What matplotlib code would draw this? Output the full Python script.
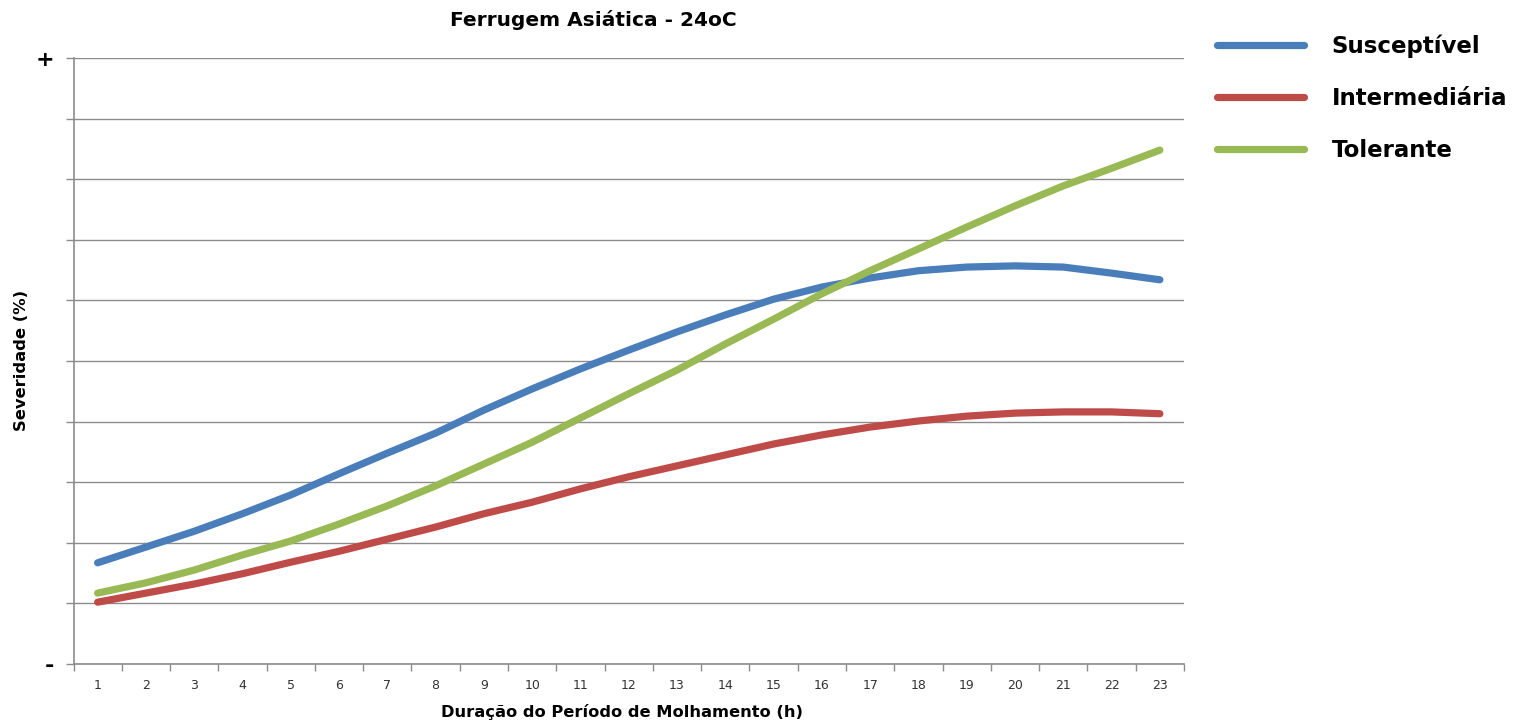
import matplotlib.pyplot as plt

# hours of wetness (categories)
hours = list(range(1, 24))

susceptivel = [1.67, 1.93, 2.19, 2.48, 2.79, 3.14, 3.48, 3.81, 4.19, 4.54, 4.87, 5.18,
               5.48, 5.76, 6.02, 6.22, 6.37, 6.49, 6.55, 6.57, 6.55, 6.45, 6.34]
intermediaria = [1.02, 1.17, 1.32, 1.49, 1.68, 1.86, 2.06, 2.26, 2.48, 2.67, 2.89, 3.09,
                 3.27, 3.45, 3.63, 3.78, 3.91, 4.01, 4.09, 4.14, 4.16, 4.16, 4.13]
tolerante = [1.17, 1.34, 1.55, 1.80, 2.03, 2.31, 2.61, 2.94, 3.30, 3.66, 4.06, 4.46,
             4.85, 5.28, 5.69, 6.11, 6.49, 6.85, 7.21, 7.56, 7.89, 8.18, 8.48]

labels = ['Susceptível', 'Intermediária', 'Tolerante']
colors = ['#4a7ebb', '#be4b48', '#98b954']

W, H = 1522, 724
fig = plt.figure(figsize=(W / 100, H / 100), dpi=100)
ax = fig.add_axes([73.5 / W, 1 - 664 / H, (1184 - 73.5) / W, (664 - 58) / H])

for vals, lab, col in zip([susceptivel, intermediaria, tolerante], labels, colors):
    ax.plot(hours, vals, color=col, lw=5.2, solid_capstyle='round', label=lab)

# axes look (Excel style)
grey = '#8c8c8c'
ax.set_xlim(0.5, 23.5)
ax.set_ylim(0, 10)
ax.set_yticks(range(11))
ax.set_yticklabels(['-'] + [''] * 9 + ['+'], fontsize=16, fontweight='bold')
ax.grid(axis='y', color=grey, lw=1)
ax.set_axisbelow(True)
ax.tick_params(axis='y', length=6, color=grey, pad=8, width=1)

ax.set_xticks([h + 0.5 for h in range(0, 24)])
ax.set_xticklabels([])
ax.set_xticks(hours, minor=True)
ax.set_xticklabels([str(h) for h in hours], minor=True, fontsize=9, color='#333333')
ax.tick_params(axis='x', which='major', length=5, color=grey, width=1)
ax.tick_params(axis='x', which='minor', length=0, pad=11)

for s in ['top', 'right']:
    ax.spines[s].set_visible(False)
for s in ['left', 'bottom']:
    ax.spines[s].set_color(grey)
    ax.spines[s].set_linewidth(1.2)

fig.text(593 / W, 1 - 20 / H, 'Ferrugem Asiática - 24oC', ha='center', va='center',
         fontsize=14.5, fontweight='bold')
fig.text(622 / W, 1 - 712 / H, 'Duração do Período de Molhamento (h)', ha='center', va='center',
         fontsize=11.7, fontweight='bold')
fig.text(22 / W, 1 - 360 / H, 'Severidade (%)', ha='center', va='center', rotation=90,
         fontsize=11.8, fontweight='bold')

fig.legend(loc='upper left', bbox_to_anchor=(1217 / W, 1 - 35 / H), frameon=False,
           borderpad=0, borderaxespad=0,
           handlelength=3.8, handletextpad=1.2, labelspacing=1.25,
           prop={'size': 16.5, 'weight': 'bold'})

fig.savefig('out.png', dpi=100)
